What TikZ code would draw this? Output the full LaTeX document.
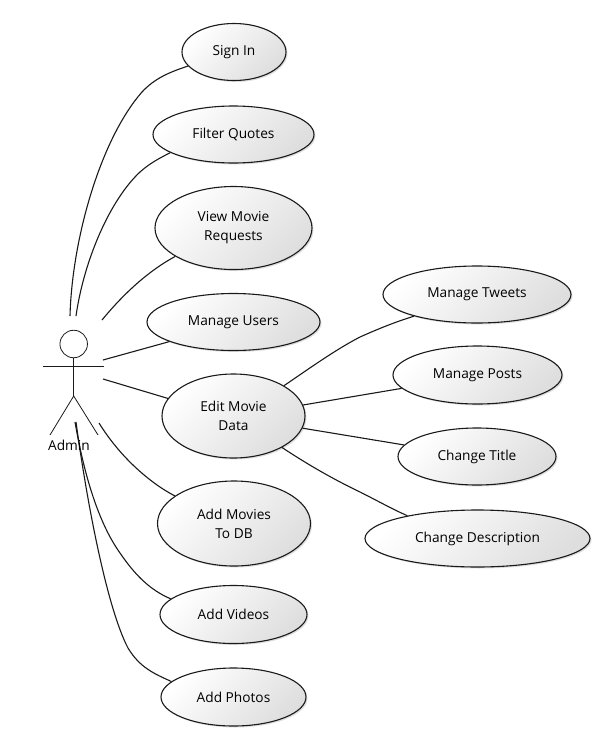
\documentclass[tikz,border=0pt]{standalone}
\usepackage{fontspec}
\setmainfont{Open Sans}
\usetikzlibrary{shapes.geometric,shadows}
\definecolor{inkc}{HTML}{1A1A1A}
\definecolor{shadec}{HTML}{DEDEDE}
\tikzset{
  usecase/.style={ellipse,draw=inkc,line width=1.1pt,inner sep=0pt,align=center,
    top color=white,bottom color=shadec,shading angle=45,
    font=\fontsize{13.7}{19}\selectfont,text=black,
    drop shadow={shadow xshift=1.5pt,shadow yshift=-1.5pt,opacity=.13,fill=black}},
  link/.style={draw=inkc,line width=1.1pt},
  actorline/.style={draw=inkc,line width=.8pt}
}
\newcommand{\uc}[6]{\node[usecase,minimum width=#4pt,minimum height=#5pt] (#1) at (#2,#3) {#6};}
\begin{document}
\begin{tikzpicture}[x=1pt,y=-1pt]
\useasboundingbox (0,0) rectangle (615,753);
\fill[white] (0,0) rectangle (615,753);
% free ends at the actor
\coordinate (a1) at (70,316);
\coordinate (a2) at (76,316);
\coordinate (a3) at (102,320);
\coordinate (a4) at (103,360);
\coordinate (a5) at (103,379);
\coordinate (a6) at (99,423);
\coordinate (a7) at (75,422);
\coordinate (a8) at (76,422);
% use cases
\uc{signin}{234}{52}{104}{57}{Sign In}
\uc{filter}{233.5}{134.5}{161}{57}{Filter Quotes}
\uc{view}{233.5}{228}{157}{83}{View Movie\\Requests}
\uc{users}{233.5}{322}{173}{57}{Manage Users}
\uc{edit}{233.5}{416}{143}{84}{Edit Movie\\Data}
\uc{movies}{234}{523.5}{153}{85}{Add Movies\\To DB}
\uc{videos}{233.5}{614.5}{147}{58}{Add Videos}
\uc{photos}{233.5}{697}{145}{58}{Add Photos}
\uc{tweets}{477}{294.5}{188}{57}{Manage Tweets}
\uc{posts}{477.5}{375}{169}{58}{Manage Posts}
\uc{title}{477}{456.5}{158}{57}{Change Title}
\uc{desc}{477.5}{538.5}{225}{57}{Change Description}
% connectors
\draw[link] (a1) .. controls (72,240) and (100,140) .. (142,92) .. controls (155,78) and (170,72) .. (signin.197);
\draw[link] (a2) .. controls (84,260) and (110,200) .. (140,172) .. controls (150,163) and (160,158) .. (filter.196);
\draw[link] (a3) .. controls (125,292) and (150,270) .. (view.206);
\draw[link] (a4) -- (users.197);
\draw[link] (a5) -- (edit.165);
\draw[link] (a6) .. controls (120,457) and (150,483) .. (movies.155);
\draw[link] (a7) .. controls (85,480) and (100,525) .. (120,553) .. controls (135,575) and (150,590) .. (videos.166);
\draw[link] (a8) .. controls (88,510) and (108,610) .. (128,648) .. controls (140,668) and (155,674) .. (photos.166);
\draw[link] (edit.31) .. controls (310,368) and (335,350) .. (360,337) .. controls (378,329) and (395,322) .. (tweets.199);
\draw[link] (edit.9) -- (posts.190);
\draw[link] (edit.-10) -- (title.171);
\draw[link] (edit.-33) .. controls (310,466) and (335,480) .. (360,492) .. controls (378,501) and (392,509) .. (desc.162);
% actor
\node[circle,draw=inkc,line width=.8pt,fill=white,minimum size=27.5pt,inner sep=0pt] (head) at (73.7,344) {};
\coordinate (hip) at (73.7,396);
\coordinate (armL) at (42.5,366.5);
\coordinate (armR) at (104,366.5);
\coordinate (legL) at (50,435);
\coordinate (legR) at (98,435);
\draw[actorline] (head.south) -- (hip);
\draw[actorline] (armL) -- (armR);
\draw[actorline] (legL) -- (hip) -- (legR);
\node[font=\fontsize{13.7}{16}\selectfont,inner sep=0pt] (admin) at (69,445) {Admin};
\end{tikzpicture}
\end{document}
